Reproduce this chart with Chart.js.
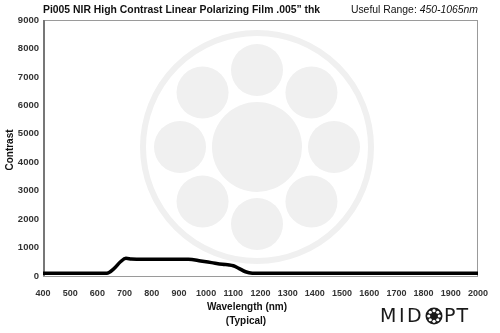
<!DOCTYPE html>
<html>
<head>
<meta charset="utf-8">
<script src="https://cdn.jsdelivr.net/npm/chart.js@4"></script>
<style>
  html, body { margin: 0; padding: 0; background: #fff; }
  #wrap { width: 500px; height: 333px; }
</style>
</head>
<body>
<div id="wrap"><canvas id="chart" width="500" height="333"></canvas></div>
<script>
// wavelength in nm, contrast
var wavelengths = [400, 500, 600, 635, 660, 685, 705, 725, 760, 850, 935, 980, 1020, 1060, 1085, 1100, 1120, 1145, 1170, 1200, 1300, 1400, 1500, 1600, 1700, 1800, 1900, 2000];
var contrast = [100, 100, 100, 100, 250, 500, 620, 600, 585, 585, 590, 530, 470, 410, 390, 360, 270, 150, 100, 95, 95, 95, 95, 95, 95, 95, 95, 95];

var xTicks = [400, 500, 600, 700, 800, 900, 1000, 1100, 1200, 1300, 1400, 1500, 1600, 1700, 1800, 1900, 2000];
var yTicks = [0, 1000, 2000, 3000, 4000, 5000, 6000, 7000, 8000, 9000];

var titleText = "Pi005 NIR High Contrast Linear Polarizing Film .005\u201d thk";
var rangeLabel = "Useful Range: ";
var rangeValue = "450-1065nm";
var xTitle = ["Wavelength (nm)", "(Typical)"];
var yTitle = "Contrast";

var FONT = "'Liberation Sans', Arial, sans-serif";

// draw a word letter by letter with extra spacing, returns end x
function spaced(ctx, txt, x, y, gap) {
  for (var i = 0; i < txt.length; i++) {
    ctx.fillText(txt[i], x, y);
    x += ctx.measureText(txt[i]).width + gap;
  }
  return x - gap;
}

// logo watermark behind the plot + frame
var backdrop = {
  id: "backdrop",
  beforeDatasetsDraw: function (chart) {
    var ctx = chart.ctx, a = chart.chartArea;
    var cx = 257, cy = 147;
    ctx.save();
    ctx.fillStyle = "#f0f0f0";
    ctx.strokeStyle = "#f0f0f0";
    ctx.lineWidth = 6;
    ctx.beginPath();
    ctx.arc(cx, cy, 114, 0, Math.PI * 2);
    ctx.stroke();
    ctx.beginPath();
    ctx.arc(cx, cy, 45, 0, Math.PI * 2);
    ctx.fill();
    for (var i = 0; i < 8; i++) {
      var t = i * Math.PI / 4;
      ctx.beginPath();
      ctx.arc(cx + 77 * Math.cos(t), cy + 77 * Math.sin(t), 26, 0, Math.PI * 2);
      ctx.fill();
    }
    // frame
    ctx.strokeStyle = "#9a9a9a";
    ctx.lineWidth = 1;
    ctx.strokeRect(a.left + 0.5, a.top + 0.5, a.right - a.left - 1, a.bottom - a.top);
    ctx.strokeStyle = "#777";
    ctx.lineWidth = 2;
    ctx.beginPath();
    ctx.moveTo(a.left + 1, a.top);
    ctx.lineTo(a.left + 1, a.bottom);
    ctx.stroke();
    ctx.restore();
  },
  afterDraw: function (chart) {
    var ctx = chart.ctx;
    ctx.save();
    ctx.fillStyle = "#111";
    ctx.textBaseline = "middle";
    ctx.textAlign = "left";
    ctx.font = "bold 10.4px " + FONT;
    ctx.fillText(titleText, 43, 10);

    ctx.font = "italic 10.4px " + FONT;
    var w2 = ctx.measureText(rangeValue).width;
    ctx.textAlign = "right";
    ctx.fillText(rangeValue, 478, 10);
    ctx.font = "10.4px " + FONT;
    ctx.fillText(rangeLabel, 478 - w2, 10);

    ctx.textAlign = "center";
    ctx.font = "bold 10px " + FONT;
    ctx.fillText(xTitle[0], 247, 307);
    ctx.fillText(xTitle[1], 246, 321);

    ctx.save();
    ctx.translate(10, 150);
    ctx.rotate(-Math.PI / 2);
    ctx.fillText(yTitle, 0, 0);
    ctx.restore();

    // MIDOPT logo
    ctx.fillStyle = "#1a1a1a";
    ctx.font = "19px 'DejaVu Sans', sans-serif";
    ctx.textAlign = "left";
    spaced(ctx, "MID", 380, 317, 2.5);
    spaced(ctx, "PT", 444, 317, 1);
    var lx = 434, ly = 316;
    ctx.beginPath();
    ctx.arc(lx, ly, 8.5, 0, Math.PI * 2);
    ctx.fill();
    ctx.fillStyle = "#fff";
    for (var i = 0; i < 8; i++) {
      var t = i * Math.PI / 4;
      ctx.beginPath();
      ctx.arc(lx + 5.3 * Math.cos(t), ly + 5.3 * Math.sin(t), 1.6, 0, Math.PI * 2);
      ctx.fill();
    }
    ctx.restore();
  }
};

new Chart(document.getElementById("chart"), {
  type: "line",
  data: {
    datasets: [{
      data: wavelengths.map(function (w, i) { return { x: w, y: contrast[i] }; }),
      borderColor: "#000",
      borderWidth: 3.5,
      pointRadius: 0,
      cubicInterpolationMode: "monotone",
      fill: false
    }]
  },
  options: {
    responsive: false,
    animation: false,
    layout: { padding: { top: 20, right: 17, left: 0, bottom: 0 } },
    plugins: { legend: { display: false }, tooltip: { enabled: false }, title: { display: false } },
    scales: {
      x: {
        type: "linear",
        min: 400,
        max: 2000,
        afterBuildTicks: function (s) { s.ticks = xTicks.map(function (v) { return { value: v }; }); },
        afterFit: function (s) { s.height = 57; },
        grid: { display: false, drawTicks: false },
        border: { display: false },
        ticks: {
          padding: 12, color: "#333", font: { family: FONT, size: 9, weight: "bold" },
          maxRotation: 0, autoSkip: false,
          callback: function (v) { return String(v); }
        }
      },
      y: {
        min: 0,
        max: 9000,
        afterBuildTicks: function (s) { s.ticks = yTicks.map(function (v) { return { value: v }; }); },
        afterFit: function (s) { s.width = 43; },
        grid: { display: false, drawTicks: false },
        border: { display: false },
        ticks: {
          padding: 4, color: "#333", font: { family: FONT, size: 9.5, weight: "bold" }, autoSkip: false,
          callback: function (v) { return String(v); }
        }
      }
    }
  },
  plugins: [backdrop]
});
</script>
</body>
</html>
